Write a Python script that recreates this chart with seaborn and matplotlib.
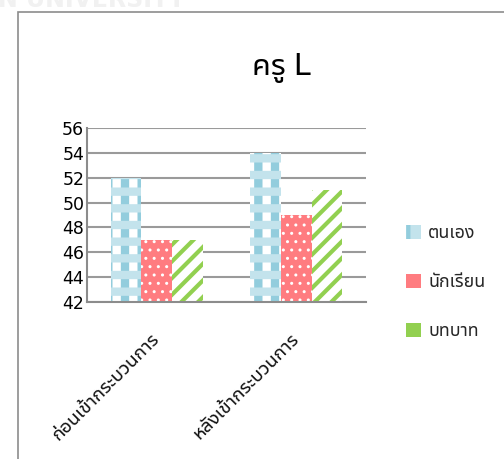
import matplotlib
matplotlib.use("Agg")
import matplotlib.pyplot as plt
from matplotlib.patches import Patch, Rectangle
import pandas as pd
import seaborn as sns

# --- data -------------------------------------------------------------
stages = ["ก่อนเข้ากระบวนการ", "หลังเข้ากระบวนการ"]
roles = ["ตนเอง", "นักเรียน", "บทบาท"]
self_scores = [52, 54]
student_scores = [47, 49]
role_scores = [47, 51]
y_ticks = [42, 44, 46, 48, 50, 52, 54, 56]
title = "ครู L"

df = pd.DataFrame({
    "stage": stages * 3,
    "role": [roles[0]] * 2 + [roles[1]] * 2 + [roles[2]] * 2,
    "score": self_scores + student_scores + role_scores,
})

# --- style ------------------------------------------------------------
sns.set_theme(style="white")
plt.rcParams["font.family"] = ["Noto Sans Thai UI", "DejaVu Sans"]
plt.rcParams["hatch.linewidth"] = 3.0

face = {roles[0]: "#FFFFFF", roles[1]: "#FF7C80", roles[2]: "#FFFFFF"}
hatch_col = {roles[0]: "#93CDDD", roles[1]: "#FFFFFF", roles[2]: "#92D050"}
hatches = {roles[0]: "|", roles[1]: "..", roles[2]: "//"}
hatch_lw = {roles[0]: 6.0, roles[1]: 1.0, roles[2]: 3.0}

fig = plt.figure(figsize=(5.04, 4.59), dpi=100)
W, H = 504, 459

# outer chart frame and faint heading behind it
fig.text(-2 / W, 1 - 12 / H, "N UNIVERSITY", color="#F1F1F1", fontsize=17,
         fontweight="bold", family="DejaVu Sans", ha="left", va="bottom")
fig.patches.append(Rectangle((18 / W, -0.2), 1.2, 1.2 - 12 / H,
                             transform=fig.transFigure, fill=False,
                             edgecolor="#8C8C8C", linewidth=1.2))

ax = fig.add_axes([87 / W, 1 - 302 / H, (366 - 87) / W, (302 - 128) / H])

bar_kws = dict(data=df, x="stage", y="score", hue="role", hue_order=roles,
               width=0.66, legend=False, ax=ax, errorbar=None)
sns.barplot(palette=face, **bar_kws)
n_first = len(ax.containers)

for role, cont in zip(roles, ax.containers):
    for bar in cont:
        bar.set_facecolor(face[role])
        bar.set_edgecolor(hatch_col[role])
        bar.set_linewidth(0)
        bar.set_hatch(hatches[role])
        if hasattr(bar, "set_hatch_linewidth"):
            bar.set_hatch_linewidth(hatch_lw[role])

# pale cross bands over the "ตนเอง" bars (checked fabric look)
sns.barplot(palette=face, **bar_kws)
for i, cont in enumerate(ax.containers[n_first:]):
    for bar in cont:
        if i == 0:
            bar.set_facecolor("none")
            bar.set_edgecolor("#C3E3EC")
            bar.set_linewidth(0)
            bar.set_hatch("-")
            if hasattr(bar, "set_hatch_linewidth"):
                bar.set_hatch_linewidth(6.0)
        else:
            bar.remove()

ax.set_ylim(42, 56)
ax.set_xlim(-0.5, 1.5)
ax.set_yticks(y_ticks)
ax.set_yticklabels([str(v) for v in y_ticks], fontsize=12.5, color="black")
ax.set_xlabel("")
ax.set_ylabel("")
ax.yaxis.grid(True, color="#9A9A9A", linewidth=1.5)
ax.set_axisbelow(True)
ax.tick_params(axis="y", length=0, pad=2)
ax.tick_params(axis="x", length=0, pad=24)
for lbl in ax.get_xticklabels():
    lbl.set_rotation(45)
    lbl.set_ha("right")
    lbl.set_va("center")
    lbl.set_rotation_mode("anchor")
    lbl.set_fontsize(13.5)
    lbl.set_color("#111111")
for side in ("top", "right"):
    ax.spines[side].set_visible(False)
for side in ("left", "bottom"):
    ax.spines[side].set_color("#8C8C8C")
    ax.spines[side].set_linewidth(1.5)
ax.set_facecolor("none")

fig.text(281 / W, 1 - 75 / H, title, fontsize=22,
         color="black", ha="center", va="baseline")

handles = [
    Patch(facecolor="#C3E3EC", edgecolor=hatch_col[roles[0]], linewidth=0,
          hatch="|", label=roles[0]),
    Patch(facecolor="#FF7C80", linewidth=0, label=roles[1]),
    Patch(facecolor="#92D050", linewidth=0, label=roles[2]),
]
fig.legend(handles=handles, loc="upper left",
           bbox_to_anchor=(406 / W, 1 - 224 / H), frameon=False,
           fontsize=12.8, handlelength=0.85, handleheight=0.85,
           handletextpad=0.4, labelspacing=1.75, borderpad=0,
           borderaxespad=0)

fig.savefig("out.png", dpi=100)
